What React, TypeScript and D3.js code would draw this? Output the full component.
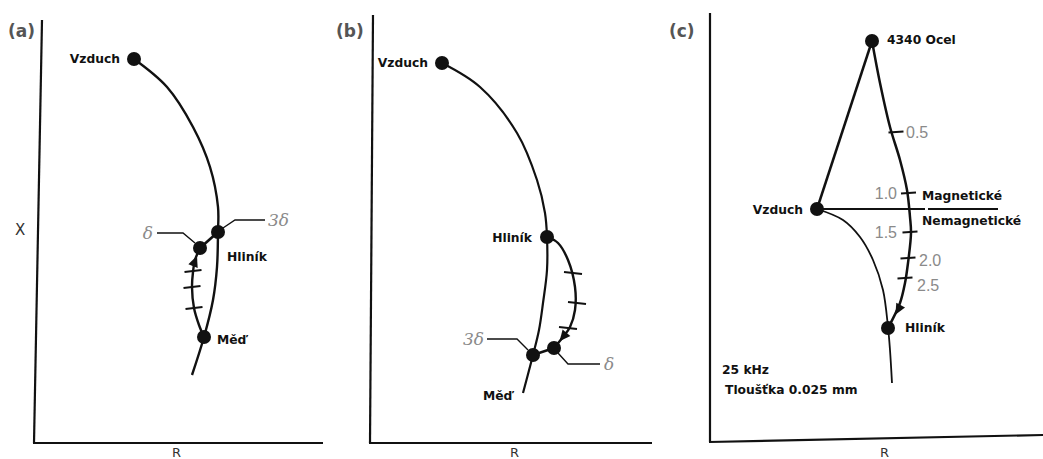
import React from "react";
import * as d3 from "d3";

type P = [number, number];

// ---------- Panel (a): values in (R, X) units ----------
const aMain: P[] = [[100, 384], [133, 356], [159, 316], [176, 276], [184, 236], [184, 211], [183, 176], [179, 143], [170, 106], [158, 68]];
const aLoop: P[] = [[166, 195], [161, 183], [159, 171], [158, 156], [160, 135], [165, 118], [170, 106]];
const aBridge: P[] = [[166, 195], [184, 211]];
const aDots: P[] = [[100, 384], [184, 211], [166, 195], [170, 106]];
const aTicks: P[] = [[159, 172], [158, 156], [160, 135]];
const aArrow: { at: P; to: P } = { at: [161, 182], to: [166, 195] };
const aLeaderD: P[] = [[123, 210], [149, 210], [161, 200]];
const aLeader3D: P[] = [[189, 215], [201, 223], [231, 223]];
const aLabels = [
  { t: "Vzduch", p: [86, 384] as P, a: "end" },
  { t: "Hliník", p: [193, 186] as P, a: "start" },
  { t: "Měď", p: [183, 103] as P, a: "start" },
];
const aGrayLabels = [
  { t: "δ", p: [119, 210] as P, a: "end" },
  { t: "3δ", p: [234, 223] as P, a: "start" },
];

// ---------- Panel (b) ----------
const bMain: P[] = [[72, 380], [110, 356], [147, 310], [167, 263], [175, 230], [177, 206], [177, 173], [173, 140], [169, 113], [163, 88], [153, 50]];
const bLoop: P[] = [[178, 206], [188, 200], [198, 183], [205, 156], [205, 133], [200, 116], [193, 106], [184, 95]];
const bBridge: P[] = [[184, 95], [163, 88]];
const bDots: P[] = [[72, 380], [177, 206], [163, 88], [184, 95]];
const bTicks: P[] = [[203, 170], [207, 140], [198, 115]];
const bArrow: { at: P; to: P } = { at: [193, 106], to: [184, 95] };
const bLeader3D: P[] = [[117, 104], [147, 104], [158, 93]];
const bLeaderD: P[] = [[188, 90], [198, 79], [230, 79]];
const bLabels = [
  { t: "Vzduch", p: [58, 380] as P, a: "end" },
  { t: "Hliník", p: [162, 205] as P, a: "end" },
  { t: "Měď", p: [113, 47] as P, a: "start" },
];
const bGrayLabels = [
  { t: "3δ", p: [114, 104] as P, a: "end" },
  { t: "δ", p: [234, 79] as P, a: "start" },
];

// ---------- Panel (c) ----------
const cOcelToVzduch: P[] = [[162, 401], [107, 233]];
const cRight: P[] = [[162, 401], [170, 359], [180, 315], [190, 282], [197, 252], [200, 225], [201, 209], [198, 179], [195, 159], [190, 139], [178, 114]];
const cLower: P[] = [[107, 233], [133, 222], [150, 205], [163, 182], [173, 152], [178, 115], [180, 92], [182, 59]];
const cDivider1: P[] = [[107, 233], [215, 233]];
const cDivider2: P[] = [[218, 233], [288, 233]];
const cDots: P[] = [[162, 401], [107, 233], [178, 114]];
const cTicks: P[] = [[186, 310], [198.5, 249], [200, 210], [198, 184], [195, 164]];
const cTickLabels = [
  { t: "0.5", p: [196, 310] as P, a: "start" },
  { t: "1.0", p: [187, 249] as P, a: "end" },
  { t: "1.5", p: [187, 210] as P, a: "end" },
  { t: "2.0", p: [209, 182] as P, a: "start" },
  { t: "2.5", p: [207, 157] as P, a: "start" },
];
const cArrow: { at: P; to: P } = { at: [188, 132], to: [178, 114] };
const cLabels = [
  { t: "4340 Ocel", p: [177, 402] as P, a: "start" },
  { t: "Vzduch", p: [93, 232] as P, a: "end" },
  { t: "Magnetické", p: [212, 246] as P, a: "start" },
  { t: "Nemagnetické", p: [212, 221] as P, a: "start" },
  { t: "Hliník", p: [195, 114] as P, a: "start" },
  { t: "25 kHz", p: [12, 72] as P, a: "start" },
  { t: "Tloušťka 0.025 mm", p: [15, 52] as P, a: "start" },
];

const BOLD = "'DejaVu Sans', Verdana, sans-serif";
const GRAY = "#8a8a8a";
const INK = "#111";

type Panel = {
  ox: number; oy: number; right: number; top: number;
  topShift: number; rightShift: number;
  tag: string; tagX: number; rX: number; showX: boolean;
};

const layoutA: Panel = { ox: 34, oy: 443, right: 323, top: 20, topShift: 8, rightShift: 0, tag: "(a)", tagX: 8, rX: 172, showX: true };
const layoutB: Panel = { ox: 370, oy: 443, right: 652, top: 15, topShift: 3, rightShift: 0, tag: "(b)", tagX: 336, rX: 510, showX: false };
const layoutC: Panel = { ox: 710, oy: 442, right: 1043, top: 13, topShift: 0, rightShift: -7, tag: "(c)", tagX: 669, rX: 880, showX: false };

function scalesFor(L: Panel) {
  const x = d3.scaleLinear().domain([0, L.right - L.ox]).range([L.ox, L.right]);
  const y = d3.scaleLinear().domain([0, L.oy - L.top]).range([L.oy, L.top]);
  return { x, y };
}

function Axes({ L }: { L: Panel }) {
  const { x, y } = scalesFor(L);
  const x0 = x(0), y0 = y(0);
  return (
    <g>
      <line x1={x0} y1={y0} x2={x0 + L.topShift} y2={y(L.oy - L.top)} stroke={INK} strokeWidth={2.2} />
      <line x1={x0 - 1} y1={y0} x2={x(L.right - L.ox)} y2={y0 + L.rightShift} stroke={INK} strokeWidth={2.2} />
      <text x={L.tagX} y={37} fontFamily={BOLD} fontWeight="bold" fontSize={17} fill="#555">{L.tag}</text>
      <text x={L.rX} y={457} fontFamily="'DejaVu Sans', sans-serif" fontSize={13} fill="#333">R</text>
      {L.showX && <text x={15} y={235} fontFamily="'DejaVu Sans', sans-serif" fontSize={15} fill="#333">X</text>}
    </g>
  );
}

function ArrowHead({ at, to, x, y }: { at: P; to: P; x: any; y: any }) {
  const px = x(at[0]), py = y(at[1]);
  const tx = x(to[0]), ty = y(to[1]);
  const dir = Math.atan2(ty - py, tx - px);
  const len = 11, half = 5;
  const tipX = px + Math.cos(dir) * len * 0.5, tipY = py + Math.sin(dir) * len * 0.5;
  const bx = px - Math.cos(dir) * len * 0.5, by = py - Math.sin(dir) * len * 0.5;
  const nx = -Math.sin(dir), ny = Math.cos(dir);
  return <path d={`M${tipX},${tipY}L${bx + nx * half},${by + ny * half}L${bx - nx * half},${by - ny * half}Z`} fill={INK} />;
}

function Ticks({ pts, x, y, len = 17, tilt = -2 }: { pts: P[]; x: any; y: any; len?: number; tilt?: number }) {
  return (
    <g>
      {pts.map((p, i) => (
        <line key={i} x1={x(p[0]) - len / 2} y1={y(p[1]) - tilt / 2} x2={x(p[0]) + len / 2} y2={y(p[1]) + tilt / 2} stroke={INK} strokeWidth={1.9} />
      ))}
    </g>
  );
}

function Labels({ items, x, y, gray = false, size }: { items: { t: string; p: P; a: string }[]; x: any; y: any; gray?: boolean; size?: number }) {
  return (
    <g>
      {items.map((l, i) => (
        <text
          key={i}
          x={x(l.p[0])}
          y={y(l.p[1])}
          dy="0.35em"
          textAnchor={l.a as any}
          fontFamily={gray ? "'Liberation Sans', Arial, sans-serif" : BOLD}
          fontWeight={gray ? "normal" : "bold"}
          fontSize={size ?? (gray ? 16 : 12.3)}
          fill={gray ? GRAY : INK}
        >
          {l.t}
        </text>
      ))}
    </g>
  );
}

function DeltaLabels({ items, x, y }: { items: { t: string; p: P; a: string }[]; x: any; y: any }) {
  return (
    <g>
      {items.map((l, i) => (
        <text key={i} x={x(l.p[0])} y={y(l.p[1])} dy="0.35em" textAnchor={l.a as any}
          fontFamily="'DejaVu Serif', 'Liberation Serif', serif" fontStyle="italic" fontSize={17} fill={GRAY}>
          {l.t}
        </text>
      ))}
    </g>
  );
}

function PanelA() {
  const { x, y } = scalesFor(layoutA);
  const curve = d3.line<P>().x(d => x(d[0])).y(d => y(d[1])).curve(d3.curveCatmullRom.alpha(0.5));
  const poly = d3.line<P>().x(d => x(d[0])).y(d => y(d[1]));
  return (
    <g>
      <Axes L={layoutA} />
      <path d={curve(aMain)!} fill="none" stroke={INK} strokeWidth={2.4} />
      <path d={curve(aLoop)!} fill="none" stroke={INK} strokeWidth={2.4} />
      <path d={poly(aBridge)!} fill="none" stroke={INK} strokeWidth={2.7} />
      <Ticks pts={aTicks} x={x} y={y} />
      <ArrowHead at={aArrow.at} to={aArrow.to} x={x} y={y} />
      <path d={poly(aLeaderD)!} fill="none" stroke={INK} strokeWidth={1.4} />
      <path d={poly(aLeader3D)!} fill="none" stroke={INK} strokeWidth={1.4} />
      {aDots.map((d, i) => <circle key={i} cx={x(d[0])} cy={y(d[1])} r={7} fill={INK} />)}
      <Labels items={aLabels} x={x} y={y} />
      <DeltaLabels items={aGrayLabels} x={x} y={y} />
    </g>
  );
}

function PanelB() {
  const { x, y } = scalesFor(layoutB);
  const curve = d3.line<P>().x(d => x(d[0])).y(d => y(d[1])).curve(d3.curveCatmullRom.alpha(0.5));
  const poly = d3.line<P>().x(d => x(d[0])).y(d => y(d[1]));
  return (
    <g>
      <Axes L={layoutB} />
      <path d={curve(bMain)!} fill="none" stroke={INK} strokeWidth={2.2} />
      <path d={curve(bLoop)!} fill="none" stroke={INK} strokeWidth={2.4} />
      <path d={poly(bBridge)!} fill="none" stroke={INK} strokeWidth={2.5} />
      <Ticks pts={bTicks} x={x} y={y} len={18} tilt={2} />
      <ArrowHead at={bArrow.at} to={bArrow.to} x={x} y={y} />
      <path d={poly(bLeader3D)!} fill="none" stroke={INK} strokeWidth={1.4} />
      <path d={poly(bLeaderD)!} fill="none" stroke={INK} strokeWidth={1.4} />
      {bDots.map((d, i) => <circle key={i} cx={x(d[0])} cy={y(d[1])} r={7} fill={INK} />)}
      <Labels items={bLabels} x={x} y={y} />
      <DeltaLabels items={bGrayLabels} x={x} y={y} />
    </g>
  );
}

function PanelC() {
  const { x, y } = scalesFor(layoutC);
  const curve = d3.line<P>().x(d => x(d[0])).y(d => y(d[1])).curve(d3.curveCatmullRom.alpha(0.5));
  const poly = d3.line<P>().x(d => x(d[0])).y(d => y(d[1]));
  return (
    <g>
      <Axes L={layoutC} />
      <path d={poly(cOcelToVzduch)!} fill="none" stroke={INK} strokeWidth={2.5} />
      <path d={curve(cRight)!} fill="none" stroke={INK} strokeWidth={2.5} />
      <path d={curve(cLower)!} fill="none" stroke={INK} strokeWidth={1.8} />
      <path d={poly(cDivider1)!} fill="none" stroke={INK} strokeWidth={1.8} />
      <path d={poly(cDivider2)!} fill="none" stroke={INK} strokeWidth={1.8} />
      <Ticks pts={cTicks} x={x} y={y} len={15} tilt={-1} />
      <ArrowHead at={cArrow.at} to={cArrow.to} x={x} y={y} />
      {cDots.map((d, i) => <circle key={i} cx={x(d[0])} cy={y(d[1])} r={7} fill={INK} />)}
      <Labels items={cLabels} x={x} y={y} />
      <Labels items={cTickLabels} x={x} y={y} gray />
    </g>
  );
}

export default function App() {
  return (
    <svg width={1043} height={459} style={{ position: "absolute", left: 0, top: 0, background: "#fff" }}>
      <rect width={1043} height={459} fill="#fff" />
      <PanelA />
      <PanelB />
      <PanelC />
    </svg>
  );
}
